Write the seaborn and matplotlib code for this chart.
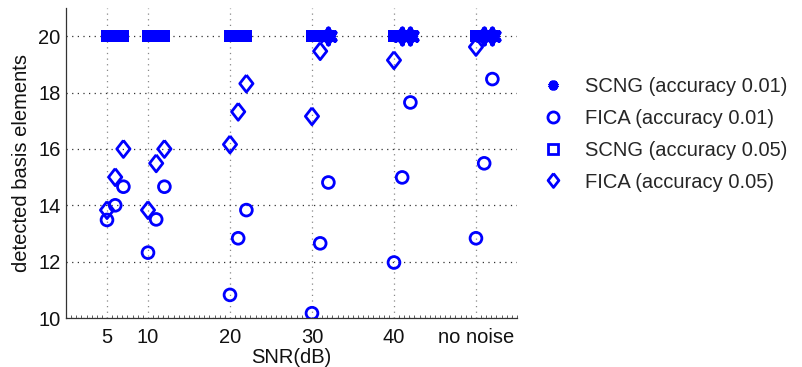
import numpy as np
import pandas as pd
import matplotlib
matplotlib.use("Agg")
import matplotlib.pyplot as plt
from matplotlib.lines import Line2D
from matplotlib.ticker import MultipleLocator
import seaborn as sns

# ---- data ----
snr_labels = ["5", "10", "20", "30", "40", "no noise"]
snr_pos = [5, 10, 20, 30, 40, 50]
trial_offsets = [0, 1, 2]

fica_001 = [[13.48, 14.00, 14.66],
            [12.32, 13.50, 14.66],
            [10.82, 12.83, 13.83],
            [10.17, 12.65, 14.81],
            [11.97, 14.99, 17.65],
            [12.83, 15.49, 18.48]]
fica_005 = [[13.83, 15.00, 16.00],
            [13.83, 15.49, 16.00],
            [16.16, 17.32, 18.32],
            [17.16, 19.47, 20.00],
            [19.15, 20.00, 20.00],
            [19.62, 20.00, 20.00]]
scng_005 = [[20, 20, 20],
            [20, 20, 20],
            [20, 20, 20],
            [20, 20, 20],
            [20, 20, 20],
            [20, 20, 20]]
scng_001 = [[np.nan, np.nan, np.nan],
            [np.nan, np.nan, np.nan],
            [np.nan, np.nan, np.nan],
            [np.nan, np.nan, 20],
            [np.nan, 20, 20],
            [np.nan, 20, 20]]

series_names = ["SCNG (accuracy 0.01)", "FICA (accuracy 0.01)",
                "SCNG (accuracy 0.05)", "FICA (accuracy 0.05)"]
series_vals = [scng_001, fica_001, scng_005, fica_005]

rows = []
for name, vals in zip(series_names, series_vals):
    for p, v in zip(snr_pos, vals):
        for o, y in zip(trial_offsets, v):
            rows.append({"x": p + o, "y": y, "series": name})
df = pd.DataFrame(rows).dropna()

BLUE = "#0000ff"
diamond = [(0, 1), (0.78, 0), (0, -1), (-0.78, 0), (0, 1)]
FS = 14.5

sns.set_style("white")
plt.rcParams["font.family"] = ["Liberation Sans", "DejaVu Sans"]

fig = plt.figure(figsize=(8.02, 3.67), dpi=100)
ax = fig.add_axes([0.0823, 0.1335, 0.5623, 0.8445])

# SCNG 0.01 (asterisks)
sns.scatterplot(data=df[df.series == series_names[0]], x="x", y="y",
                marker=(6, 2, 0), s=120, color=BLUE, linewidth=3.4,
                ax=ax, legend=False, zorder=3)
# FICA 0.01 (circles)
sns.scatterplot(data=df[df.series == series_names[1]], x="x", y="y",
                marker="o", s=72, facecolors="none", edgecolor=BLUE,
                linewidth=2.0, ax=ax, legend=False, zorder=4)
# SCNG 0.05 (squares)
sns.scatterplot(data=df[df.series == series_names[2]], x="x", y="y",
                marker="s", s=82, color=BLUE, edgecolor=BLUE,
                linewidth=0, ax=ax, legend=False, zorder=4)
# FICA 0.05 (diamonds)
sns.scatterplot(data=df[df.series == series_names[3]], x="x", y="y",
                marker=diamond, s=150, facecolors="none", edgecolor=BLUE,
                linewidth=2.0, ax=ax, legend=False, zorder=5)

ax.set_xlim(0, 55)
ax.set_ylim(10, 21)
ax.set_xticks(snr_pos)
ax.set_xticklabels(snr_labels)
ax.set_yticks([10, 12, 14, 16, 18, 20])
ax.xaxis.set_minor_locator(MultipleLocator(0.625))
ax.tick_params(axis="both", which="major", direction="in", length=4,
               labelsize=FS, colors="#111111", pad=4)
ax.tick_params(axis="x", which="major", pad=7)
ax.tick_params(axis="x", which="minor", direction="in", length=2,
               color="#444444", bottom=True)
ax.set_xlabel("SNR(dB)", fontsize=FS, labelpad=1, color="#111111")
ax.set_ylabel("detected basis elements", fontsize=FS, labelpad=5,
              color="#111111")

ax.grid(True, which="major", axis="y", linestyle=(0, (1, 3.5)),
        color="#333333", linewidth=0.9)
ax.grid(True, which="major", axis="x", linestyle=(0, (1, 3.5)),
        color="#888888", linewidth=0.9)
ax.set_axisbelow(True)
for s in ["top", "right"]:
    ax.spines[s].set_visible(False)
for s in ["left", "bottom"]:
    ax.spines[s].set_color("#333333")
    ax.spines[s].set_linewidth(0.9)

handles = [
    Line2D([], [], linestyle="", marker=(6, 2, 0), markersize=7,
           markeredgewidth=3, color=BLUE),
    Line2D([], [], linestyle="", marker="o", markersize=8,
           markerfacecolor="none", markeredgecolor=BLUE, markeredgewidth=2),
    Line2D([], [], linestyle="", marker="s", markersize=6.5,
           markerfacecolor="none", markeredgecolor=BLUE, markeredgewidth=2),
    Line2D([], [], linestyle="", marker=diamond, markersize=10,
           markerfacecolor="none", markeredgecolor=BLUE, markeredgewidth=2),
]
fig.legend(handles, series_names, loc="center left",
           bbox_to_anchor=(545 / 802, 1 - 134.5 / 367), frameon=False,
           fontsize=FS, handlelength=0.8, handletextpad=1.2,
           labelspacing=0.63, borderpad=0, borderaxespad=0)

fig.savefig("out.png", dpi=100)
